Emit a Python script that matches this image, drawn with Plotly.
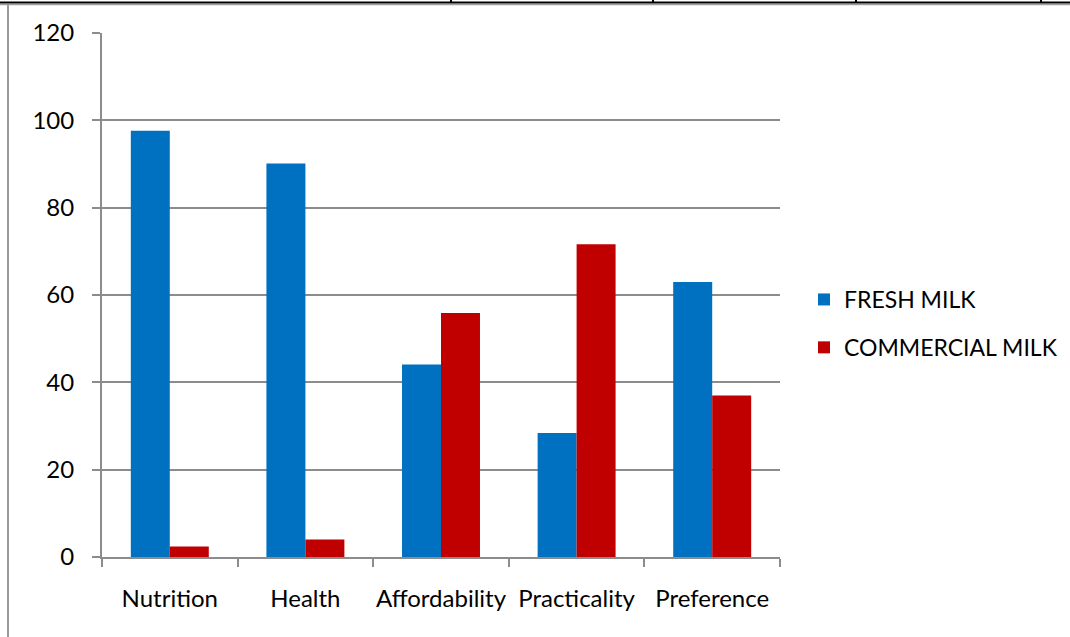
import plotly.graph_objects as go

# Survey responses (%) by attribute for each milk type
categories = ["Nutrition", "Health", "Affordability", "Practicality", "Preference"]
fresh_milk = [97.6, 90.1, 44.1, 28.4, 63.0]
commercial_milk = [2.4, 4.0, 55.9, 71.6, 37.0]
y_ticks = [0, 20, 40, 60, 80, 100, 120]

FONT = "Lato"
GRID = "#8c8c8c"

fig = go.Figure()
fig.add_trace(go.Bar(
    x=categories, y=fresh_milk, name="FRESH MILK",
    marker=dict(color="#0070C0", line=dict(width=0)),
    legendgroup="a",
))
fig.add_trace(go.Bar(
    x=categories, y=commercial_milk, name="COMMERCIAL MILK",
    marker=dict(color="#C00000", line=dict(width=0)),
    legendgroup="b",
))

W, H = 1070, 637
L, R, T, B = 102, 780, 33, 557


def px(x):
    return (x - L) / (R - L)


def py(y):
    return (B - y) / (B - T)


shapes = [
    # frame: top rule with its shadow, left rule and small top ticks
    dict(type="line", xref="paper", yref="paper", x0=px(0), x1=px(W), y0=py(4.5), y1=py(4.5),
         line=dict(color="#a0a0a0", width=1.5)),
    dict(type="line", xref="paper", yref="paper", x0=px(0), x1=px(W), y0=py(2.5), y1=py(2.5),
         line=dict(color="#000000", width=2)),
    dict(type="line", xref="paper", yref="paper", x0=px(8), x1=px(8), y0=py(4), y1=py(H),
         line=dict(color="#9a9a9a", width=2)),
]
for tx in [451, 653, 856, 1041]:
    shapes.append(dict(type="line", xref="paper", yref="paper", x0=px(tx), x1=px(tx),
                       y0=py(0), y1=py(3), line=dict(color="#000000", width=2)))

fig.update_layout(
    width=W, height=H,
    margin=dict(l=L, r=W - R, t=T, b=H - B, pad=0, autoexpand=False),
    paper_bgcolor="white", plot_bgcolor="white",
    font=dict(family=FONT, size=24, color="#000000"),
    barmode="group", bargap=0.425, bargroupgap=0,
    showlegend=True,
    legend=dict(
        xref="container", yref="container",
        x=804 / W, y=1 - 278 / H, xanchor="left", yanchor="top",
        font=dict(family=FONT, size=23, color="#000000"),
        traceorder="grouped", tracegroupgap=15,
        bgcolor="rgba(0,0,0,0)",
    ),
    shapes=shapes,
)
fig.update_xaxes(
    type="category", showline=True, linecolor=GRID, linewidth=2,
    ticks="outside", tickson="boundaries", ticklen=8, tickcolor=GRID, tickwidth=2,
    ticklabelstandoff=19, showgrid=False, tickangle=0, automargin=False,
)
fig.update_yaxes(
    range=[0, 120], tickvals=y_ticks, showline=True, linecolor=GRID, linewidth=2,
    ticks="outside", ticklen=8, tickcolor=GRID, tickwidth=2,
    showgrid=True, gridcolor=GRID, gridwidth=2, zeroline=False,
    ticklabelstandoff=13, automargin=False,
)

fig.write_html("out.html")
